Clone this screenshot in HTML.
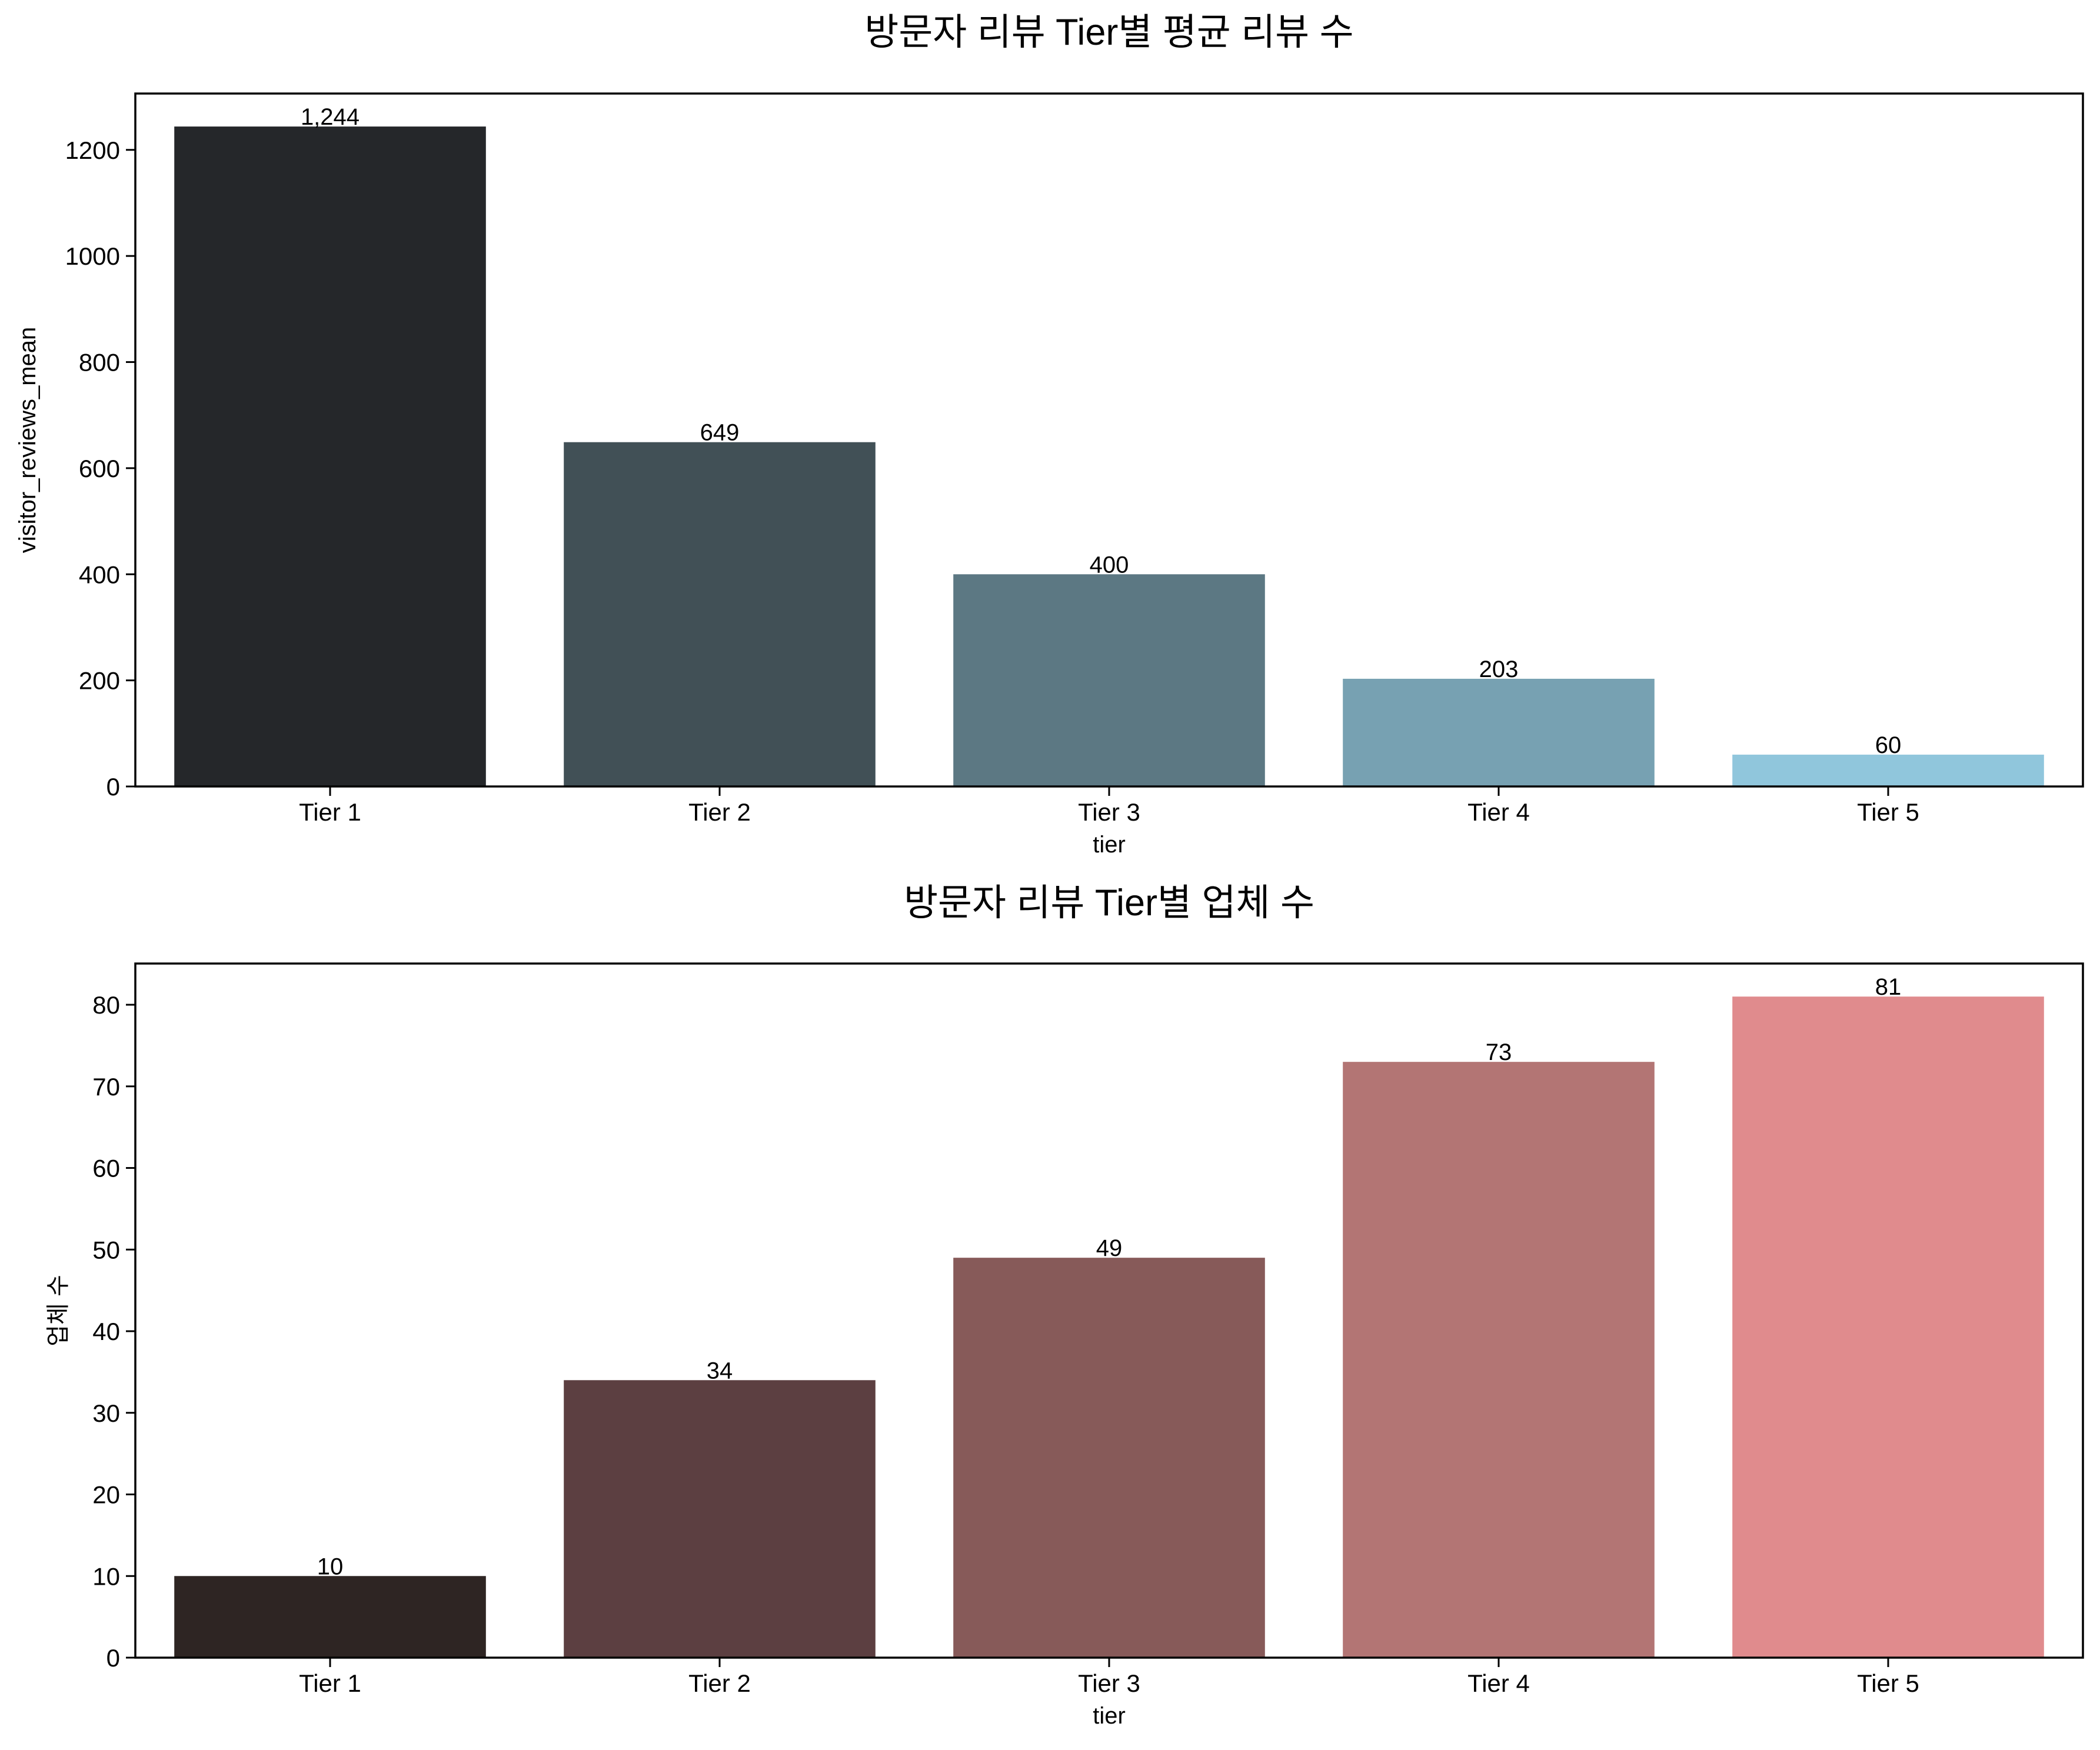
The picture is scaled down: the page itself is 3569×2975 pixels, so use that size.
<!DOCTYPE html>
<html><head><meta charset="utf-8"><style>
html,body{margin:0;padding:0;background:#fff;}
svg text{font-family:"Liberation Sans","Noto Sans CJK KR",sans-serif;fill:#000;}
</style></head><body>
<svg id="fig" width="3569" height="2970" viewBox="0 0 3569 2970" xmlns="http://www.w3.org/2000/svg"></svg>
<script>
const categories = ["Tier 1","Tier 2","Tier 3","Tier 4","Tier 5"];
const reviewMeans = [1244, 649, 400, 203, 60];
const reviewLabels = ["1,244","649","400","203","60"];
const storeCounts = [10, 34, 49, 73, 81];
const storeLabels = ["10","34","49","73","81"];
const topTicks = [0,200,400,600,800,1000,1200];
const bottomTicks = [0,10,20,30,40,50,60,70,80];
const topColors = ["#25272a","#415056","#5c7883","#77a1b2","#90c6dc"];
const bottomColors = ["#2e2523","#5c3f41","#875a59","#b37574","#e08b8d"];

const NS="http://www.w3.org/2000/svg";
const svg=document.getElementById('fig');
function el(tag,attrs,parent){const e=document.createElementNS(NS,tag);for(const k in attrs)e.setAttribute(k,attrs[k]);(parent||svg).appendChild(e);return e;}

function drawPanel(opt){
  const L=230,R=3540,T=opt.top,B=opt.bottom;
  const g=el('g',{});
  
  
  const ymax=Math.max(...opt.values)*1.05;
  const xs=i=>L+(i+0.5)/categories.length*(R-L);
  const bw=0.8*(R-L)/categories.length;
  const ys=v=>B-v/ymax*(B-T);
  opt.values.forEach((v,i)=>{
    const r=el('rect',{x:xs(i)-bw/2,y:ys(v),width:bw,height:B-ys(v),fill:opt.colors[i]},g);
    
    
    const t=el('text',{x:xs(i),y:ys(v)-3,'text-anchor':'middle','font-size':40},g);
    t.textContent=opt.labels[i];
    
    
  });
  opt.ticks.forEach(v=>{
    el('line',{x1:L-16,x2:L,y1:ys(v),y2:ys(v),stroke:'#000','stroke-width':3},g);
    const t=el('text',{x:L-26,y:ys(v)+15,'text-anchor':'end','font-size':42},g);
    t.textContent=v;
    
    
  });
  categories.forEach((c,i)=>{
    el('line',{x1:xs(i),x2:xs(i),y1:B,y2:B+16,stroke:'#000','stroke-width':3},g);
    const t=el('text',{x:xs(i),y:B+58,'text-anchor':'middle','font-size':42},g);
    t.textContent=c;
    
    
  });
  const fr=el('rect',{x:L,y:T,width:R-L,height:B-T,fill:'none',stroke:'#000','stroke-width':3.5},g);
  
  
  const xl=el('text',{x:(L+R)/2,y:B+112,'text-anchor':'middle','font-size':40},g);
  xl.textContent='tier';
  
  
  const cy=(T+B)/2;
  const yl=el('text',{x:0,y:0,'text-anchor':'middle','font-size':40,transform:`translate(${opt.ylx},${cy}) rotate(-90)`},g);
  yl.textContent=opt.ylabel;
  
  
  const ti=el('text',{x:(L+R)/2,y:opt.titleY,'text-anchor':'middle','font-size':63},g);
  ti.textContent=opt.title;
  
  
}
drawPanel({name:'review-mean-panel',top:159,bottom:1337,values:reviewMeans,labels:reviewLabels,ticks:topTicks,colors:topColors,ylabel:'visitor_reviews_mean',ylx:60,title:'방문자 리뷰 Tier별 평균 리뷰 수',titleY:76});
drawPanel({name:'store-count-panel',top:1638,bottom:2818,values:storeCounts,labels:storeLabels,ticks:bottomTicks,colors:bottomColors,ylabel:'업체 수',ylx:112,title:'방문자 리뷰 Tier별 업체 수',titleY:1556});
</script>
</body></html>
